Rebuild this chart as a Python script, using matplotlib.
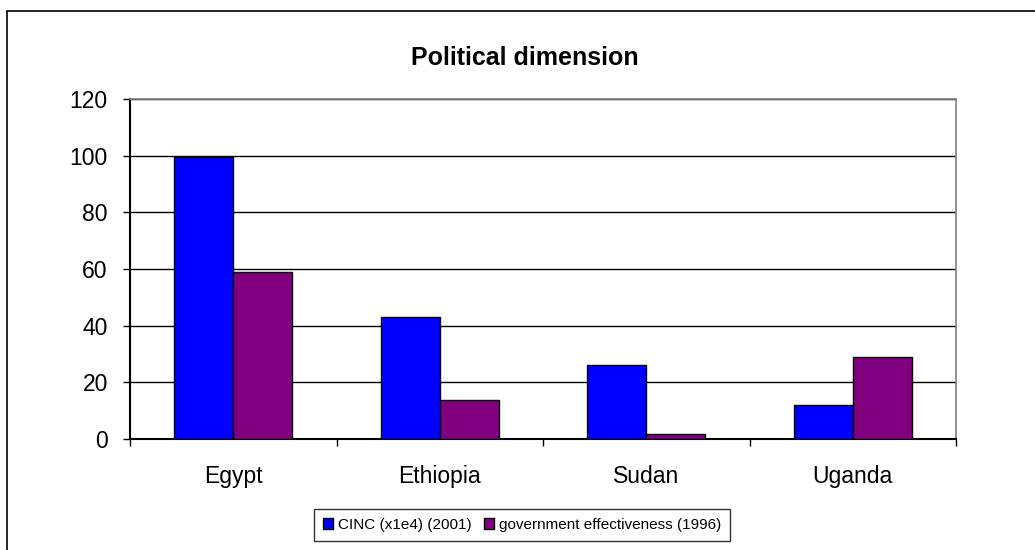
import matplotlib.pyplot as plt
import matplotlib.patches as mpatches
import numpy as np

plt.rcParams['font.family'] = ['Liberation Sans', 'DejaVu Sans']

# Datos
paises = ['Egypt', 'Ethiopia', 'Sudan', 'Uganda']
cinc = [99.5, 43.0, 26.1, 12.1]
gov_eff = [58.8, 13.9, 1.6, 29.0]
etiquetas_series = ['CINC (x1e4) (2001)', 'government effectiveness (1996)']
yticks = [0, 20, 40, 60, 80, 100, 120]

fig = plt.figure(figsize=(10.35, 5.5), dpi=100)
ax = fig.add_axes([130 / 1035, 111 / 550, 826 / 1035, 340 / 550])

# Marco exterior del area del grafico
fig.patches.append(mpatches.Rectangle((7 / 1035, -0.1), 1.2, 0.98 + 0.1,
                                      transform=fig.transFigure, fill=False,
                                      edgecolor='black', linewidth=1.2))

x = np.arange(len(paises))
ancho = 1 / 3.5
ax.bar(x - ancho / 2, cinc, ancho, color='#0000FF', edgecolor='black',
       linewidth=1, label=etiquetas_series[0], zorder=3)
ax.bar(x + ancho / 2, gov_eff, ancho, color='#800080', edgecolor='black',
       linewidth=1, label=etiquetas_series[1], zorder=3)

ax.set_xlim(-0.5, len(paises) - 0.5)
ax.set_ylim(0, 120)
ax.set_yticks(yticks)
ax.yaxis.grid(True, color='black', linewidth=1, zorder=0)
ax.set_axisbelow(True)

ax.set_xticks(x)
ax.set_xticklabels(paises, fontsize=16.5)
ax.set_xticks(np.arange(len(paises) + 1) - 0.5, minor=True)
ax.tick_params(axis='x', which='major', length=0, pad=19)
ax.tick_params(axis='x', which='minor', length=5, width=1, direction='out')
ax.tick_params(axis='y', length=5, width=1, direction='out', labelsize=16.5, pad=11)

for lado in ['left', 'bottom']:
    ax.spines[lado].set_color('black')
    ax.spines[lado].set_linewidth(1.5)
for lado in ['top', 'right']:
    ax.spines[lado].set_color('#808080')
    ax.spines[lado].set_linewidth(1.2)

fig.text(0.507, 0.895, 'Political dimension', ha='center', va='center',
         fontsize=18, fontweight='bold')

leg = fig.legend(loc='center', bbox_to_anchor=(522 / 1035, 1 - 525 / 550),
                 ncol=2, fontsize=11, frameon=True, fancybox=False,
                 handlelength=0.7, handleheight=0.7, handletextpad=0.3,
                 columnspacing=0.8, borderpad=0.6, borderaxespad=0)
leg.get_frame().set_edgecolor('black')
leg.get_frame().set_linewidth(1)

plt.savefig('out.png', dpi=100)
